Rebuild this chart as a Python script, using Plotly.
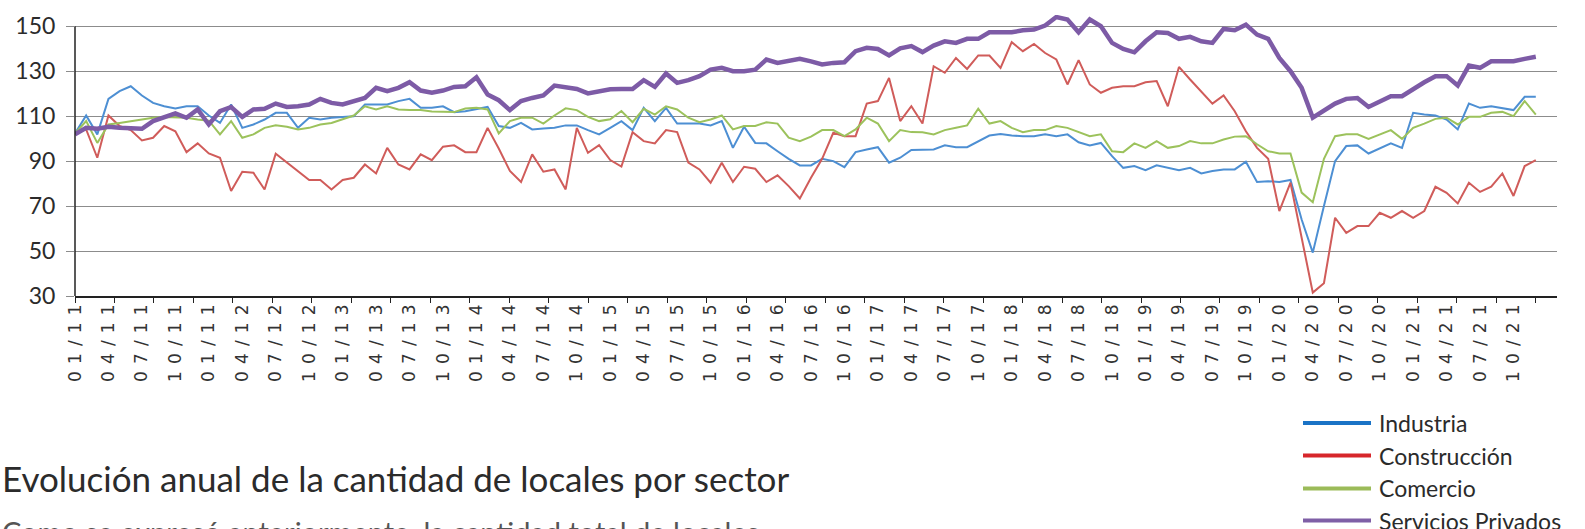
import plotly.graph_objects as go

# month index 0 = 01/2011 ... 131 = 12/2021
tick_labels = ["01/11", "04/11", "07/11", "10/11", "01/11", "04/12", "07/12", "10/12",
               "01/13", "04/13", "07/13", "10/13", "01/14", "04/14", "07/14", "10/14",
               "01/15", "04/15", "07/15", "10/15", "01/16", "04/16", "07/16", "10/16",
               "01/17", "04/17", "07/17", "10/17", "01/18", "04/18", "07/18", "10/18",
               "01/19", "04/19", "07/19", "10/19", "01/20", "04/20", "07/20", "10/20",
               "01/21", "04/21", "07/21", "10/21"]

industria = [102.3, 110.3, 101.9, 117.7, 121.1, 123.3, 119.2, 115.9, 114.4, 113.4, 114.4, 114.4,
             110.3, 107.0, 115.2, 104.8, 106.3, 108.5, 111.5, 111.5, 104.8, 109.3, 108.5, 109.3,
             109.6, 110.0, 115.2, 115.2, 115.2, 116.7, 117.7, 113.7, 113.7, 114.4, 111.8, 112.2,
             113.3, 114.1, 105.6, 104.8, 107.0, 104.1, 104.5, 104.8, 105.9, 105.9, 103.8, 101.9,
             104.8, 107.8, 103.8, 113.7, 107.8, 113.7, 106.7, 106.7, 106.7, 105.9, 107.8, 95.9,
             105.3, 98.1, 97.9, 94.4, 91.0, 88.1, 88.1, 91.0, 90.0, 87.3, 94.0, 95.2,
             96.2, 89.3, 91.5, 95.0, 95.2, 95.2, 97.0, 96.2, 96.2, 98.9, 101.4, 102.1,
             101.4, 101.1, 101.1, 101.9, 101.1, 101.9, 98.4, 97.0, 98.1, 92.2, 87.0, 87.8,
             86.0, 88.1, 87.0, 86.0, 87.0, 84.5, 85.6, 86.3, 86.3, 89.7, 80.7, 81.1,
             80.7, 81.6, 64.0, 49.3, 70.0, 90.0, 96.7, 97.0, 93.4, 95.5, 97.9, 95.9,
             111.5, 110.7, 110.3, 108.5, 104.1, 115.6, 113.7, 114.4, 113.7, 112.7, 118.6, 118.6]

construccion = [102.3, 104.1, 91.5, 110.3, 105.6, 103.8, 99.2, 100.4, 105.6, 103.3, 94.0, 97.9,
                93.4, 91.5, 76.7, 85.3, 84.8, 77.4, 93.3, 89.3, 85.6, 81.6, 81.6, 77.4,
                81.6, 82.6, 88.5, 84.5, 95.9, 88.5, 86.3, 93.0, 90.4, 96.4, 97.0, 94.0,
                94.0, 104.8, 95.6, 85.6, 80.7, 93.0, 85.3, 86.3, 77.4, 104.8, 93.7, 97.1,
                90.5, 87.6, 102.9, 98.9, 97.9, 103.8, 102.9, 89.3, 86.3, 80.4, 89.3, 80.7,
                87.5, 86.6, 80.7, 83.7, 78.9, 73.4, 82.6, 91.0, 102.6, 101.1, 101.1, 115.6,
                116.7, 127.0, 107.8, 114.4, 106.7, 132.2, 129.3, 135.9, 131.0, 137.0, 137.0, 131.5,
                142.9, 138.9, 142.1, 138.1, 135.2, 124.1, 134.9, 124.1, 120.4, 122.6, 123.3, 123.3,
                125.1, 125.6, 114.4, 131.9, 126.3, 120.7, 115.6, 119.2, 112.2, 103.3, 95.9, 91.0,
                67.8, 80.4, 56.3, 31.5, 35.7, 64.8, 58.1, 61.1, 61.1, 67.0, 64.8, 67.8,
                64.8, 67.8, 78.6, 75.9, 71.2, 80.4, 76.3, 78.6, 84.5, 74.5, 87.8, 90.4]

comercio = [102.3, 107.8, 98.1, 106.3, 107.0, 107.8, 108.5, 109.3, 109.6, 109.6, 109.3, 108.5,
            108.0, 101.9, 107.8, 100.4, 101.9, 104.8, 105.9, 105.3, 104.1, 104.8, 106.3, 107.0,
            108.5, 110.3, 114.4, 113.0, 114.4, 113.0, 112.7, 112.7, 112.1, 111.8, 111.8, 113.4,
            113.7, 113.0, 102.3, 107.8, 109.3, 109.3, 106.7, 110.3, 113.5, 112.7, 109.7, 107.8,
            108.6, 112.3, 107.3, 113.3, 110.7, 114.4, 113.0, 109.3, 107.3, 108.5, 110.3, 104.1,
            105.6, 105.6, 107.3, 106.7, 100.4, 98.9, 100.9, 103.8, 103.8, 101.1, 104.1, 109.3,
            106.7, 98.9, 103.8, 102.9, 102.8, 101.9, 103.8, 104.8, 105.9, 113.3, 106.7, 107.8,
            104.8, 102.9, 103.8, 103.8, 105.6, 104.8, 102.9, 101.1, 101.9, 94.4, 94.0, 97.9,
            95.9, 98.9, 95.9, 96.7, 98.9, 97.9, 97.9, 99.6, 100.9, 101.1, 97.5, 94.4,
            93.4, 93.4, 76.0, 71.7, 91.0, 101.1, 101.9, 101.9, 99.9, 101.9, 103.8, 99.9,
            104.8, 106.7, 108.8, 109.3, 106.3, 109.7, 109.7, 111.5, 111.9, 110.0, 116.7, 110.7]

servicios = [101.9, 104.8, 104.4, 105.3, 104.8, 104.8, 104.4, 107.8, 109.7, 111.2, 109.3, 113.0,
             106.3, 112.2, 114.0, 109.7, 113.0, 113.3, 115.6, 114.1, 114.4, 115.2, 117.7, 115.9,
             115.2, 116.7, 118.1, 122.6, 121.1, 122.6, 125.1, 121.4, 120.4, 121.4, 123.0, 123.3,
             127.3, 119.6, 117.1, 112.7, 116.7, 118.1, 119.2, 123.6, 122.8, 122.1, 120.1, 120.8,
             122.0, 122.1, 122.1, 126.0, 123.0, 129.0, 124.8, 126.0, 127.8, 130.7, 131.5, 130.0,
             130.0, 130.7, 135.2, 133.7, 134.4, 135.5, 134.4, 133.0, 133.7, 134.0, 138.9, 140.4,
             139.9, 137.0, 140.2, 141.2, 138.5, 141.4, 143.3, 142.6, 144.4, 144.4, 147.3, 147.3,
             147.3, 148.2, 148.5, 150.3, 154.1, 153.0, 147.3, 153.0, 150.0, 142.6, 139.9, 138.4,
             143.3, 147.3, 147.0, 144.4, 145.3, 143.3, 142.6, 148.8, 148.2, 150.7, 146.3, 144.4,
             135.9, 130.0, 122.6, 109.3, 112.2, 115.6, 117.7, 118.1, 114.1, 116.7, 118.9, 118.9,
             122.1, 125.1, 127.8, 127.8, 123.6, 132.5, 131.5, 134.4, 134.4, 134.4, 135.5, 136.4]

series_names = ["Industria", "Construcción", "Comercio", "Servicios Privados"]
line_colors = ["#4d8fd3", "#d05c5a", "#9cc25c", "#7d5ba6"]
legend_colors = ["#1a73c6", "#d7262b", "#9bbb59", "#7f5fa6"]
line_widths = [2, 2, 2, 4.5]
y_ticks = [30, 50, 70, 90, 110, 130, 150]

months = list(range(len(industria)))
label_pos = months[::3]
spaced_labels = [" \u200a".join(lab) for lab in tick_labels]

fig = go.Figure()
for name, vals, col, w in zip(series_names, [industria, construccion, comercio, servicios],
                              line_colors, line_widths):
    fig.add_trace(go.Scatter(x=months, y=vals, mode="lines", name=name,
                             line=dict(color=col, width=w), showlegend=False))

# dummy trace to carry the secondary x axis (tick marks only)
fig.add_trace(go.Scatter(x=[0], y=[30], xaxis="x2", mode="markers",
                         marker=dict(opacity=0), showlegend=False, hoverinfo="skip"))

n_ticks = 38
tick_marks = [months[-1] * k / (n_ticks - 1) for k in range(n_ticks)]

W, H = 1585, 529
ML, MR, MT, MB = 75, 28, 15, 233
pw = W - ML - MR
ph = H - MT - MB

def px_x(px):
    return (px - ML) / pw

def px_y(py):
    return (H - MB - py) / ph

fig.update_layout(
    width=W, height=H,
    margin=dict(l=ML, r=MR, t=MT, b=MB),
    paper_bgcolor="white", plot_bgcolor="white",
    font=dict(family="Lato", color="#333333"),
    xaxis=dict(range=[0, 132.9], tickmode="array", tickvals=label_pos, ticktext=spaced_labels,
               tickangle=-90, ticks="", showgrid=False, zeroline=False,
               showline=True, linecolor="#222222", linewidth=1.5,
               tickfont=dict(family="DejaVu Sans", size=17, color="#333333")),
    xaxis2=dict(range=[0, 132.9], overlaying="x", anchor="y", side="bottom",
                tickmode="array", tickvals=tick_marks, ticks="outside", ticklen=6,
                tickcolor="#222222", tickwidth=1.2, showticklabels=False,
                showgrid=False, zeroline=False, showline=False),
    yaxis=dict(range=[30, 155], tickmode="array", tickvals=y_ticks,
               showgrid=True, gridcolor="#8c8c8c", gridwidth=1.4, zeroline=False,
               ticks="outside", ticklen=8, tickcolor="#8c8c8c", tickwidth=1.4,
               ticklabelstandoff=6,
               tickfont=dict(family="Lato", size=23, color="#2b2b2b"), showline=False),
    showlegend=False,
)

# y axis line from 30 to 150
fig.add_shape(type="line", xref="paper", yref="y", x0=0, x1=0, y0=30, y1=150,
              line=dict(color="#222222", width=1.5))

# legend (manual, bottom right)
leg_rows = [423, 455.5, 488.5, 520.5]
for name, col, py in zip(series_names, legend_colors, leg_rows):
    fig.add_shape(type="line", xref="paper", yref="paper",
                  x0=px_x(1303), x1=px_x(1371), y0=px_y(py), y1=px_y(py),
                  line=dict(color=col, width=4))
    fig.add_annotation(xref="paper", yref="paper", x=px_x(1377), y=px_y(py),
                       xanchor="left", yanchor="middle", text=name, showarrow=False,
                       font=dict(family="Lato", size=23, color="#2b2b2b"))

fig.add_annotation(xref="paper", yref="paper", x=px_x(0), y=px_y(478),
                   xanchor="left", yanchor="middle", showarrow=False,
                   text="Evolución anual de la cantidad de locales por sector",
                   font=dict(family="Lato", size=35, color="#2b2b2b"))
fig.add_annotation(xref="paper", yref="paper", x=px_x(0), y=px_y(512),
                   xanchor="left", yanchor="top", showarrow=False,
                   text="Como se expresó anteriormente, la cantidad total de locales",
                   font=dict(family="Lato", size=29, color="#555555"))

fig.write_html("out.html", post_script="document.body.style.margin='0';",
               config={"displayModeBar": False})
